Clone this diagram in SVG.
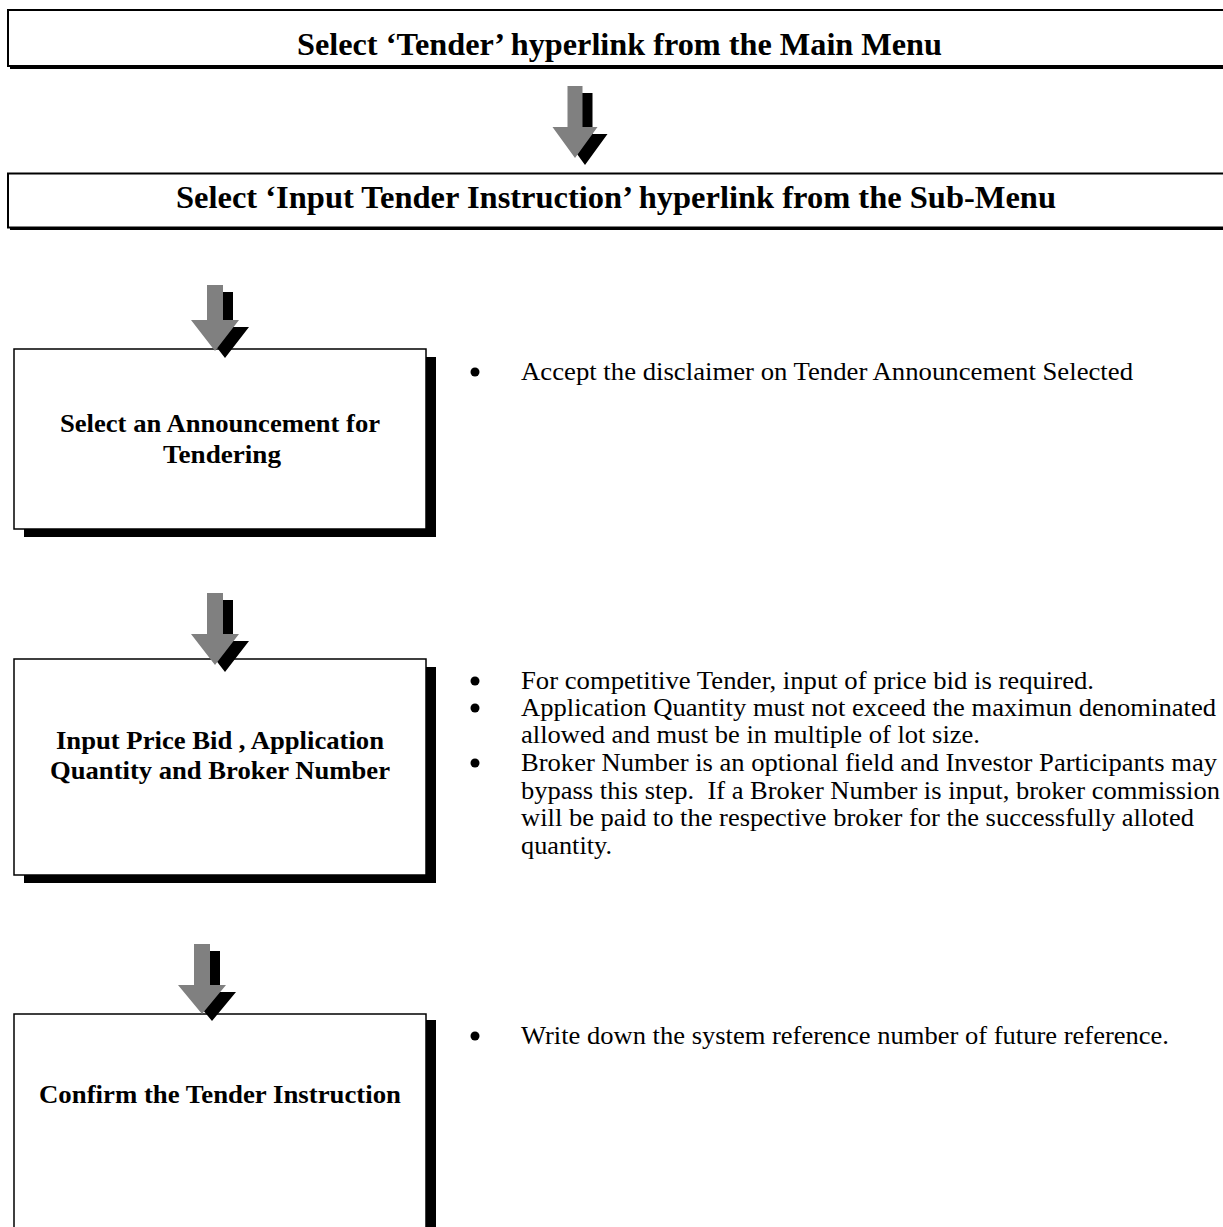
<svg xmlns="http://www.w3.org/2000/svg" width="1223" height="1227" viewBox="0 0 1223 1227">
<style>
.bg{fill:#fff}
.frame{fill:#fff;stroke:#000;stroke-width:2}
.box{fill:#fff;stroke:#000;stroke-width:1.5}
.shadow{fill:#000}
.arrow{fill:#808080}
.ashadow{fill:#000}
.title{font-family:"Liberation Serif","Times New Roman",serif;font-weight:bold;font-size:32px;fill:#000}
.label{font-family:"Liberation Serif","Times New Roman",serif;font-weight:bold;font-size:26px;fill:#000;text-anchor:middle}
.note{font-family:"Liberation Serif","Times New Roman",serif;font-size:24.8px;fill:#000}
.dot{fill:#000}
</style>
<rect class="bg" x="0" y="0" width="1223" height="1227"/>

<g id="step-menu">
<rect class="shadow" x="10" y="12" width="1230" height="57"/>
<rect class="frame" x="8" y="10" width="1230" height="56"/>
<text class="title" x="297" y="55" textLength="645" lengthAdjust="spacingAndGlyphs">Select ‘Tender’ hyperlink from the Main Menu</text>
</g>

<g id="step-submenu">
<rect class="shadow" x="10" y="175.5" width="1230" height="54.5"/>
<rect class="frame" x="8" y="173.5" width="1230" height="54"/>
<text class="title" x="176" y="208" textLength="880" lengthAdjust="spacingAndGlyphs">Select ‘Input Tender Instruction’ hyperlink from the Sub-Menu</text>
</g>

<g id="step-select-announcement">
<rect class="shadow" x="24" y="357" width="412" height="180"/>
<rect class="box" x="14" y="349" width="412" height="180"/>
<text class="label" x="220" y="432" textLength="320" lengthAdjust="spacingAndGlyphs">Select an Announcement for</text>
<text class="label" x="222" y="463" textLength="118" lengthAdjust="spacingAndGlyphs">Tendering</text>
</g>

<g id="note-select-announcement">
<circle class="dot" cx="475" cy="372" r="4.5"/>
<text class="note" x="521" y="380" textLength="612" lengthAdjust="spacingAndGlyphs">Accept the disclaimer on Tender Announcement Selected</text>
</g>

<g id="step-input-price">
<rect class="shadow" x="24" y="667" width="412" height="216"/>
<rect class="box" x="14" y="659" width="412" height="216"/>
<text class="label" x="220" y="749" textLength="328" lengthAdjust="spacingAndGlyphs">Input Price Bid , Application</text>
<text class="label" x="220" y="779" textLength="340" lengthAdjust="spacingAndGlyphs">Quantity and Broker Number</text>
</g>

<g id="note-input-price">
<circle class="dot" cx="475" cy="681" r="4.5"/>
<text class="note" x="521" y="689" textLength="573" lengthAdjust="spacingAndGlyphs">For competitive Tender, input of price bid is required.</text>
<circle class="dot" cx="475" cy="708" r="4.5"/>
<text class="note" x="521" y="716" textLength="695" lengthAdjust="spacingAndGlyphs">Application Quantity must not exceed the maximun denominated</text>
<text class="note" x="521" y="743" textLength="459" lengthAdjust="spacingAndGlyphs">allowed and must be in multiple of lot size.</text>
<circle class="dot" cx="475" cy="763" r="4.5"/>
<text class="note" x="521" y="771" textLength="696" lengthAdjust="spacingAndGlyphs">Broker Number is an optional field and Investor Participants may</text>
<text class="note" x="521" y="799" xml:space="preserve" textLength="699" lengthAdjust="spacingAndGlyphs">bypass this step.  If a Broker Number is input, broker commission</text>
<text class="note" x="521" y="826" textLength="673" lengthAdjust="spacingAndGlyphs">will be paid to the respective broker for the successfully alloted</text>
<text class="note" x="521" y="854" textLength="91" lengthAdjust="spacingAndGlyphs">quantity.</text>
</g>

<g id="step-confirm">
<rect class="shadow" x="24" y="1020" width="412" height="300"/>
<rect class="box" x="14" y="1014" width="412" height="300"/>
<text class="label" x="220" y="1103" textLength="362" lengthAdjust="spacingAndGlyphs">Confirm the Tender Instruction</text>
</g>

<g id="note-confirm">
<circle class="dot" cx="475" cy="1036" r="4.5"/>
<text class="note" x="521" y="1044" textLength="648" lengthAdjust="spacingAndGlyphs">Write down the system reference number of future reference.</text>
</g>

<g id="connectors">
<polygon class="ashadow" transform="translate(10,7)" points="567.5,86 582.5,86 582.5,127 597.5,127 575,158 552.5,127 567.5,127"/>
<polygon class="arrow" points="567.5,86 582.5,86 582.5,127 597.5,127 575,158 552.5,127 567.5,127"/>

<polygon class="ashadow" transform="translate(10,7)" points="207,285 223,285 223,320 239,320 215,351 191,320 207,320"/>
<polygon class="arrow" points="207,285 223,285 223,320 239,320 215,351 191,320 207,320"/>

<polygon class="ashadow" transform="translate(10,7)" points="207,593 223,593 223,634 239,634 215,665 191,634 207,634"/>
<polygon class="arrow" points="207,593 223,593 223,634 239,634 215,665 191,634 207,634"/>

<polygon class="ashadow" transform="translate(10,7)" points="194,944 210,944 210,985 226,985 202,1014 178,985 194,985"/>
<polygon class="arrow" points="194,944 210,944 210,985 226,985 202,1014 178,985 194,985"/>
</g>
</svg>
